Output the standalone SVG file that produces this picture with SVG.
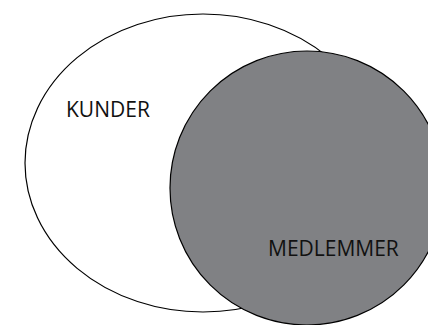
<svg xmlns="http://www.w3.org/2000/svg" width="428" height="325" viewBox="0 0 428 325">
<style>
.shape{stroke:#000;stroke-width:1.2}
.lbl{font-family:"Open Sans","Liberation Sans",sans-serif;font-size:21px;fill:#111}
</style>
<rect width="428" height="325" fill="#fff"/>
<g id="kunder">
<ellipse class="shape" cx="203" cy="163" rx="178" ry="149" fill="#fff"/>
<text class="lbl" x="66" y="117">KUNDER</text>
</g>
<g id="medlemmer">
<ellipse class="shape" cx="307" cy="188" rx="137" ry="137" fill="#808184"/>
<text class="lbl" x="268" y="256">MEDLEMMER</text>
</g>
<g id="connectors"/>
</svg>
